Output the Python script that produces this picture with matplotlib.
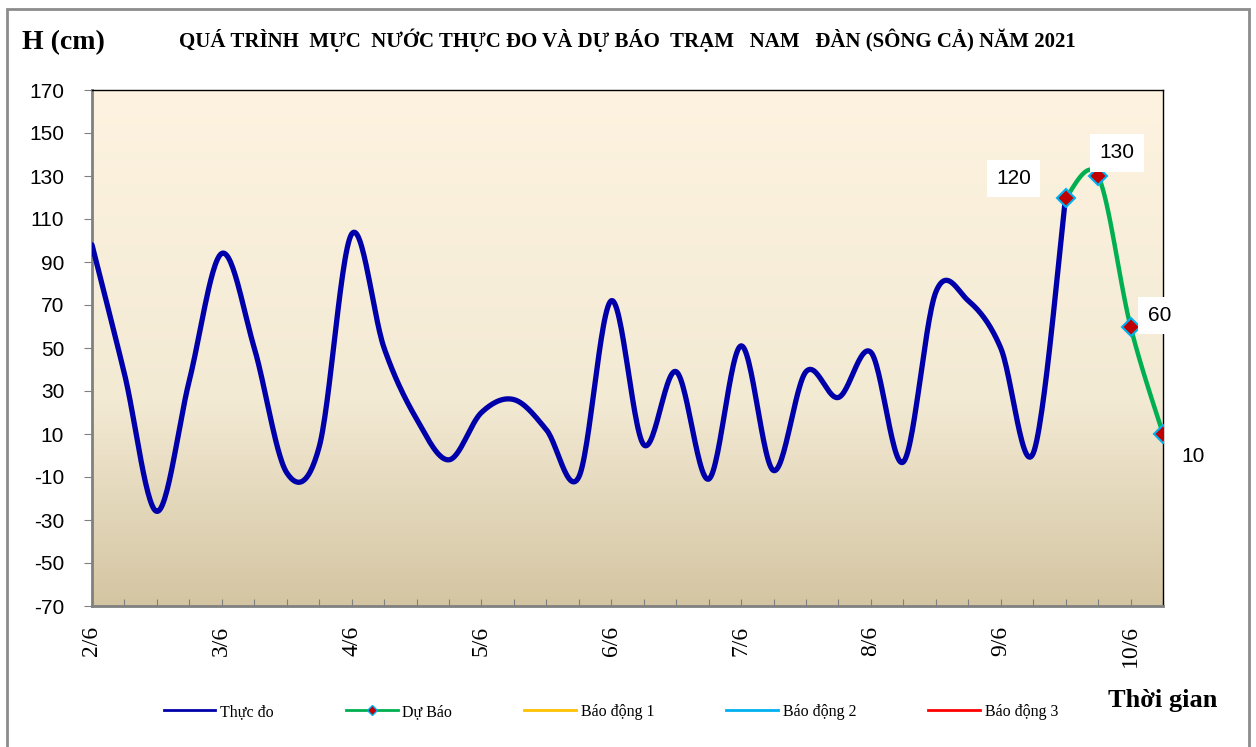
import numpy as np
import matplotlib.pyplot as plt
from matplotlib.patches import Rectangle
from matplotlib.lines import Line2D

plt.rcParams['axes.unicode_minus'] = False  # dùng dấu "-" thường như Excel

# Mực nước thực đo, mỗi điểm cách nhau 6 giờ, từ 2/6 0h đến 9/6 12h
thuc_do = [98, 38, -26, 35, 94, 50, -8, 4, 103, 50, 17, -2, 20, 26, 12, -10,
           72, 5, 39, -11, 51, -7, 39, 27, 48, -3, 76, 72, 50, 1, 120]
# Dự báo, từ 9/6 12h đến 10/6 6h
du_bao = [120, 130, 60, 10]
du_bao_labels = ['120', '130', '60', '10']
# mức báo động tại Nam Đàn (cm) - nằm ngoài khung đồ thị
bao_dong = [540, 690, 790]
bao_dong_names = ['Báo động 1', 'Báo động 2', 'Báo động 3']
bao_dong_colors = ['#FFC000', '#00B0F0', '#FF0000']
ngay = ['2/6', '3/6', '4/6', '5/6', '6/6', '7/6', '8/6', '9/6', '10/6']

serif = ['Liberation Serif', 'DejaVu Serif']
sans = ['Liberation Sans', 'DejaVu Sans']


def smooth(xs, ys, n=30):
    # đường cong kiểu Excel (Bezier / Catmull-Rom)
    xs = np.asarray(xs, float)
    ys = np.asarray(ys, float)
    out_x, out_y = [xs[0]], [ys[0]]
    t = np.linspace(0, 1, n)[1:]
    for i in range(len(xs) - 1):
        p0 = np.array([xs[i], ys[i]])
        p3 = np.array([xs[i + 1], ys[i + 1]])
        pm = np.array([xs[max(i - 1, 0)], ys[max(i - 1, 0)]])
        pp = np.array([xs[min(i + 2, len(xs) - 1)], ys[min(i + 2, len(xs) - 1)]])
        p1 = p0 + (p3 - pm) / 6
        p2 = p3 - (pp - p0) / 6
        pts = (np.outer((1 - t) ** 3, p0) + np.outer(3 * (1 - t) ** 2 * t, p1)
               + np.outer(3 * (1 - t) * t ** 2, p2) + np.outer(t ** 3, p3))
        out_x.extend(pts[:, 0])
        out_y.extend(pts[:, 1])
    return np.array(out_x), np.array(out_y)


fig = plt.figure(figsize=(12.56, 7.47), dpi=100)
ax = fig.add_axes([92 / 1256, 1 - 606 / 747, (1163 - 92) / 1256, (606 - 90) / 747])

x_td = np.arange(len(thuc_do))
x_db = np.arange(len(thuc_do) - 1, len(thuc_do) - 1 + len(du_bao))
n_last = x_db[-1]

# nền gradient
top = np.array([253, 243, 224]) / 255
mid = np.array([243, 234, 212]) / 255
bot = np.array([212, 197, 162]) / 255
s = np.linspace(0, 1, 256)[:, None]
grad = np.where(s < 0.6, top + (mid - top) * (s / 0.6), mid + (bot - mid) * ((s - 0.6) / 0.4))
ax.imshow(grad[:, None, :], extent=[0, n_last, -70, 170], aspect='auto', zorder=0)

sx, sy = smooth(x_td, thuc_do)
ax.plot(sx, sy, color='#0000AA', lw=3.8, solid_capstyle='round', zorder=3)
gx, gy = smooth(x_db, du_bao)
ax.plot(gx, gy, color='#00B050', lw=3.2, solid_capstyle='round', zorder=4)
ax.plot(x_db, du_bao, ls='none', marker='D', ms=9, mfc='#C00000', mec='#00B0F0', mew=1.5, zorder=5)

for lvl, c in zip(bao_dong, bao_dong_colors):
    ax.axhline(lvl, color=c, lw=2)

# nhãn dự báo
offsets = [(-52, 19), (19, 23), (29, 11), (30, -23)]
for xi, yi, lab, off in zip(x_db, du_bao, du_bao_labels, offsets):
    ax.annotate(lab, (xi, yi), xytext=off, textcoords='offset pixels', ha='center', va='center',
                fontsize=15, family=sans, annotation_clip=False, zorder=6,
                bbox=dict(boxstyle='square,pad=0.45', fc='white', ec='none'))

ax.set_xlim(0, n_last)
ax.set_ylim(-70, 170)
ax.set_yticks(np.arange(-70, 171, 20))
ax.set_xticks(np.arange(0, n_last + 1))
ax.set_xticklabels([ngay[i // 4] if i % 4 == 0 else '' for i in range(n_last + 1)])
for lab in ax.get_xticklabels():
    lab.set_rotation(90)
    lab.set_family(serif)
    lab.set_fontsize(17)
for lab in ax.get_yticklabels():
    lab.set_family(sans)
    lab.set_fontsize(15)
ax.tick_params(axis='x', direction='in', length=5, color='#808080', pad=14)
ax.tick_params(axis='y', direction='out', length=6, color='#808080', pad=14)
for side in ['left', 'bottom']:
    ax.spines[side].set_color('#808080')
    ax.spines[side].set_linewidth(2)
for side in ['top', 'right']:
    ax.spines[side].set_color('black')
    ax.spines[side].set_linewidth(1)

fig.text(22 / 1256, 1 - 43 / 747, 'H (cm)', family=serif, fontweight='bold', fontsize=20, va='center')
fig.text(627 / 1256, 1 - 40 / 747, 'QUÁ TRÌNH  MỰC  NƯỚC THỰC ĐO VÀ DỰ BÁO  TRẠM   NAM   ĐÀN (SÔNG CẢ) NĂM 2021',
         family=serif, fontweight='bold', fontsize=15, ha='center', va='center')
fig.text(1163 / 1256, 1 - 700 / 747, 'Thời gian', family=serif, fontweight='bold', fontsize=19, ha='center', va='center')

handles = [Line2D([], [], color='#0000AA', lw=2),
           Line2D([], [], color='#00B050', lw=2, marker='D', ms=5, mfc='#C00000', mec='#00B0F0')]
handles += [Line2D([], [], color=c, lw=2) for c in bao_dong_colors]
names = ['Thực đo', 'Dự Báo'] + bao_dong_names
fig.legend(handles, names, loc='center', bbox_to_anchor=(611 / 1256, 1 - 712 / 747), ncol=5, frameon=False,
           prop={'family': serif, 'size': 11.5}, handlelength=3.25, handletextpad=0.3, columnspacing=4.5)

# khung ngoài
fig.patches.append(Rectangle((7 / 1256, -0.05), (1249 - 7) / 1256, 1.05 - 9 / 747, transform=fig.transFigure,
                             fill=False, ec='#8C8C8C', lw=2))

fig.savefig('out.png', dpi=100)
